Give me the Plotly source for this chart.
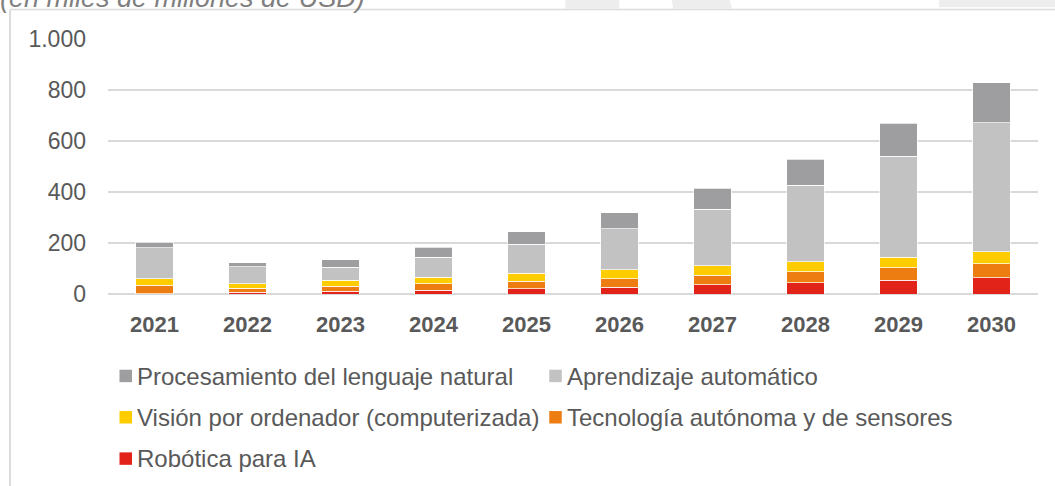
import plotly.graph_objects as go

years = ["2021", "2022", "2023", "2024", "2025", "2026", "2027", "2028", "2029", "2030"]
robotica = [1, 6, 10, 14, 20, 26, 36, 44, 53, 63]
autonoma = [33, 17, 20, 26, 30, 34, 37, 44, 49, 56]
vision = [25, 18, 23, 26, 31, 36, 38, 39, 43, 47]
aprendizaje = [122, 65, 51, 79, 115, 159, 222, 300, 395, 506]
procesamiento = [22, 17, 30, 38, 48, 63, 82, 101, 129, 157]

series = [
    ("Procesamiento del lenguaje natural", procesamiento, "#9e9d9f"),
    ("Aprendizaje automático", aprendizaje, "#c3c2c3"),
    ("Visión por ordenador (computerizada)", vision, "#ffcc00"),
    ("Tecnología autónoma y de sensores", autonoma, "#ee7d11"),
    ("Robótica para IA", robotica, "#e2231a"),
]
y_ticks = [0, 200, 400, 600, 800, 1000]

FONT = "Liberation Sans, Arial, sans-serif"
W, H = 1055, 486
L, R, T, B = 107.5, 1038, 38.5, 294.5

fig = go.Figure()
# stack order: bottom first
for name, vals, col in reversed(series):
    fig.add_trace(go.Bar(
        x=years, y=vals, name=name,
        marker=dict(color=col, line=dict(color="rgba(255,255,255,0.7)", width=1)),
        showlegend=False,
    ))


def px_x(v):
    return (v - L) / (R - L)


def px_y(v):
    return (B - v) / (B - T)


# legend (Excel-like layout)
leg_rows = [(0, 0), (0, 1), (1, 0), (1, 1), (2, 0)]
row_y = [377, 418.5, 460]
col_x = [119, 549]
for (name, vals, col), (r, c) in zip(series, leg_rows):
    xs = col_x[c]
    yc = row_y[r]
    fig.add_shape(type="rect", xref="paper", yref="paper",
                  x0=px_x(xs), x1=px_x(xs + 12.5),
                  y0=px_y(yc + 6), y1=px_y(yc - 6.5),
                  fillcolor=col, line=dict(width=0))
    fig.add_annotation(text=name, xref="paper", yref="paper",
                       x=px_x(xs + 16), y=px_y(yc),
                       xanchor="left", yanchor="middle", showarrow=False,
                       font=dict(family=FONT, size=24, color="#595959"))

# border and watermark decorations
fig.add_shape(type="line", xref="paper", yref="paper",
              x0=px_x(9.5), x1=px_x(9.5), y0=px_y(9), y1=px_y(490),
              line=dict(color="#dcdcdc", width=2))
fig.add_shape(type="line", xref="paper", yref="paper",
              x0=px_x(9.5), x1=px_x(1060), y0=px_y(9), y1=px_y(9),
              line=dict(color="#dcdcdc", width=1.5))
for (xa, xb, yb) in [(565, 619, 8), (939, 1060, 6.5)]:
    fig.add_shape(type="rect", xref="paper", yref="paper",
                  x0=px_x(xa), x1=px_x(xb), y0=px_y(yb), y1=px_y(-5),
                  fillcolor="#ededed", line=dict(width=0), layer="below")
fig.add_shape(type="path", xref="paper", yref="paper",
              path="M {a},{b} L {c},{b} L {d},{e} L {f},{e} Z".format(
                  a=px_x(671), b=px_y(-5), c=px_x(728), d=px_x(732), e=px_y(8), f=px_x(673)),
              fillcolor="#ededed", line=dict(width=0), layer="below")

fig.add_annotation(text="<i>(en miles de millones de USD)</i>", xref="paper", yref="paper",
                   x=px_x(-3), y=px_y(-2.5), xanchor="left", yanchor="middle", showarrow=False,
                   font=dict(family=FONT, size=27, color="#7f7f7f"))

fig.update_layout(
    width=W, height=H,
    barmode="stack", bargap=0.6,
    separators=",.",
    paper_bgcolor="white", plot_bgcolor="white",
    margin=dict(l=L, r=W - R, t=T, b=H - B, pad=0),
    showlegend=False,
    xaxis=dict(type="category", showgrid=False, showline=False, ticks="",
               tickfont=dict(family=FONT, size=22, color="#595959", weight="bold"),
               ticklabelstandoff=15),
    yaxis=dict(range=[0, 1000], tickvals=y_ticks, tickformat=",.0f",
               showgrid=True, gridcolor="#d9d9d9", gridwidth=1.5,
               zeroline=True, zerolinecolor="#d9d9d9", zerolinewidth=1.5,
               showline=False, ticks="",
               tickfont=dict(family=FONT, size=23, color="#595959"),
               ticklabelstandoff=21),
)

fig.write_html("out.html", config={"displayModeBar": False},
               post_script="document.body.style.margin='0';")
